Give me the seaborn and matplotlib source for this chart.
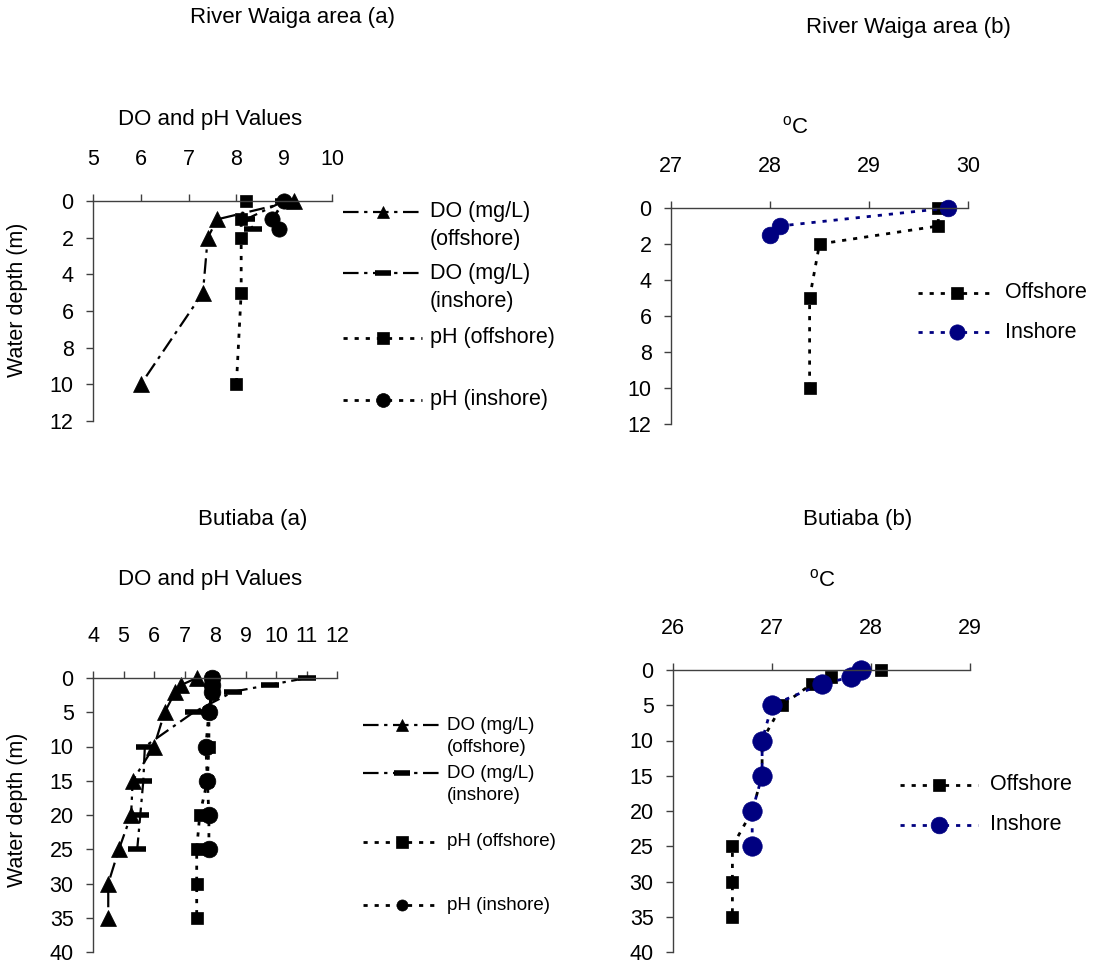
import matplotlib
matplotlib.use("Agg")
import matplotlib.pyplot as plt
from matplotlib.lines import Line2D
import seaborn as sns

# River Waiga area
waiga_depth_off = [0, 1, 2, 5, 10]
waiga_depth_in = [0, 1, 1.5]
waiga_do_off = [9.2, 7.6, 7.4, 7.3, 6.0]
waiga_do_in = [9.0, 8.2, 8.35]
waiga_ph_off = [8.2, 8.1, 8.1, 8.1, 8.0]
waiga_ph_in = [9.0, 8.75, 8.9]
waiga_temp_off = [29.7, 29.7, 28.5, 28.4, 28.4]
waiga_temp_in = [29.8, 28.1, 28.0]

# Butiaba
but_depth_off = [0, 1, 2, 5, 10, 15, 20, 25, 30, 35]
but_depth_in = [0, 1, 2, 5, 10, 15, 20, 25]
but_do_off = [7.4, 6.9, 6.7, 6.35, 6.0, 5.3, 5.25, 4.85, 4.5, 4.5]
but_do_in = [11.0, 9.8, 8.6, 7.3, 5.7, 5.65, 5.55, 5.45]
but_ph_off = [7.9, 7.9, 7.9, 7.8, 7.8, 7.75, 7.5, 7.4, 7.4, 7.4]
but_ph_in = [7.9, 7.9, 7.9, 7.8, 7.7, 7.75, 7.8, 7.8]
but_temp_off = [28.1, 27.6, 27.4, 27.1, 26.9, 26.9, 26.8, 26.6, 26.6, 26.6]
but_temp_in = [27.9, 27.8, 27.5, 27.0, 26.9, 26.9, 26.8, 26.8]

W, H = 1102, 965
AXIS = "#404040"
NAVY = "#000080"
DASHDOT = (0, (7, 2.5, 1.5, 2.5))
DOTTED = (0, (1.5, 2.5))
TICK = 15.5

sns.set_style("white")
plt.rcParams["font.family"] = ["Liberation Sans", "DejaVu Sans"]
plt.rcParams["mathtext.fontset"] = "custom"
plt.rcParams["mathtext.rm"] = "Liberation Sans"
plt.rcParams["text.color"] = "black"
plt.rcParams["xtick.labelcolor"] = "black"
plt.rcParams["ytick.labelcolor"] = "black"

fig = plt.figure(figsize=(W / 100, H / 100), dpi=100)


def px_axes(left, top, right, bottom):
    return fig.add_axes([left / W, 1 - bottom / H, (right - left) / W, (bottom - top) / H])


def style_axes(ax, xlim, ymax, ystep):
    ax.set_xlim(*xlim)
    ax.set_ylim(ymax, 0)
    ax.set_xticks(range(xlim[0], xlim[1] + 1))
    ax.set_yticks(range(0, ymax + 1, ystep))
    ax.xaxis.tick_top()
    for s in ["right", "bottom"]:
        ax.spines[s].set_visible(False)
    for s in ["left", "top"]:
        ax.spines[s].set_color(AXIS)
        ax.spines[s].set_linewidth(1)
    ax.tick_params(axis="x", direction="out", length=5, width=1, color=AXIS,
                   labelsize=TICK, labelcolor="black", pad=17, top=True, bottom=False)
    ax.tick_params(axis="y", direction="out", length=5, width=1, color=AXIS,
                   labelsize=TICK, labelcolor="black", pad=9, left=True)
    ax.set_xlabel("")
    ax.set_ylabel("")


def profile(ax, vals, depth, color, marker, ms, ls, lw=1.6, mew=0.5):
    sns.lineplot(x=vals, y=depth, ax=ax, sort=False, estimator=None, orient="y",
                 color=color, marker=marker, markersize=ms, markeredgecolor=color,
                 markeredgewidth=mew, linestyle=ls, linewidth=lw, clip_on=False)


def legend_row(x0, x1, y, tx, lines, size, gap, color, marker, ms, ls, lw=1.6, mew=0.5):
    fy = 1 - y / H
    fig.add_artist(Line2D([x0 / W, (x0 + x1) / 2 / W, x1 / W], [fy] * 3,
                          color=color, marker=marker, markersize=ms, markevery=[1],
                          markeredgecolor=color, markeredgewidth=mew,
                          linestyle=ls, linewidth=lw))
    for i, line in enumerate(lines):
        fig.text(tx / W, 1 - (y + i * gap) / H, line, fontsize=size, va="center", ha="left")


# ---- River Waiga (a): DO and pH
ax1 = px_axes(93, 201, 332, 421)
profile(ax1, waiga_do_off, waiga_depth_off, "black", "^", 11, DASHDOT)
profile(ax1, waiga_do_in, waiga_depth_in, "black", "_", 13, DASHDOT, mew=4)
profile(ax1, waiga_ph_off, waiga_depth_off, "black", "s", 9, DOTTED, lw=2)
profile(ax1, waiga_ph_in, waiga_depth_in, "black", "o", 11, DOTTED, lw=2)
style_axes(ax1, (5, 10), 12, 2)

# ---- River Waiga (b): temperature
ax2 = px_axes(671, 208, 968, 424)
profile(ax2, waiga_temp_off, waiga_depth_off, "black", "s", 9, DOTTED, lw=2)
profile(ax2, waiga_temp_in, waiga_depth_in, NAVY, "o", 12, DOTTED, lw=2)
style_axes(ax2, (27, 30), 12, 2)

# ---- Butiaba (a): DO and pH
ax3 = px_axes(93, 678, 337, 952)
profile(ax3, but_do_off, but_depth_off, "black", "^", 11, DASHDOT)
profile(ax3, but_do_in, but_depth_in, "black", "_", 13, DASHDOT, mew=4)
profile(ax3, but_ph_off, but_depth_off, "black", "s", 9, DOTTED, lw=2)
profile(ax3, but_ph_in, but_depth_in, "black", "o", 12, DOTTED, lw=2)
style_axes(ax3, (4, 12), 40, 5)

# ---- Butiaba (b): temperature
ax4 = px_axes(673, 670, 970, 952)
profile(ax4, but_temp_off, but_depth_off, "black", "s", 9, DOTTED, lw=2)
profile(ax4, but_temp_in, but_depth_in, NAVY, "o", 14, DOTTED, lw=2)
style_axes(ax4, (26, 29), 40, 5)

# titles and axis captions
fig.text(292 / W, 1 - 18 / H, "River Waiga area (a)", fontsize=16, ha="center", va="center")
fig.text(908 / W, 1 - 27 / H, "River Waiga area (b)", fontsize=16, ha="center", va="center")
fig.text(253 / W, 1 - 519 / H, "Butiaba (a)", fontsize=16, ha="center", va="center")
fig.text(858 / W, 1 - 519 / H, "Butiaba (b)", fontsize=16, ha="center", va="center")
fig.text(210 / W, 1 - 119 / H, "DO and pH Values", fontsize=16, ha="center", va="center")
fig.text(210 / W, 1 - 580 / H, "DO and pH Values", fontsize=16, ha="center", va="center")
fig.text(795 / W, 1 - 127 / H, r"$^{\mathrm{o}}$C", fontsize=16, ha="center", va="center")
fig.text(822 / W, 1 - 580 / H, r"$^{\mathrm{o}}$C", fontsize=16, ha="center", va="center")
fig.text(18 / W, 1 - 300 / H, "Water depth (m)", fontsize=TICK, rotation=90, ha="center", va="center")
fig.text(18 / W, 1 - 810 / H, "Water depth (m)", fontsize=TICK, rotation=90, ha="center", va="center")

# legends
legend_row(343, 422, 212, 430, ["DO (mg/L)", "(offshore)"], 15.5, 27, "black", "^", 9, DASHDOT)
legend_row(343, 422, 273, 430, ["DO (mg/L)", "(inshore)"], 15.5, 29, "black", "_", 12, DASHDOT, mew=4)
legend_row(343, 422, 338, 430, ["pH (offshore)"], 15.5, 0, "black", "s", 8, DOTTED, lw=2)
legend_row(343, 422, 400, 430, ["pH (inshore)"], 15.5, 0, "black", "o", 10, DOTTED, lw=2)

legend_row(363, 440, 725, 447, ["DO (mg/L)", "(offshore)"], 13.5, 23, "black", "^", 8, DASHDOT)
legend_row(363, 440, 773, 447, ["DO (mg/L)", "(inshore)"], 13.5, 23, "black", "_", 11, DASHDOT, mew=4)
legend_row(363, 440, 842, 447, ["pH (offshore)"], 13.5, 0, "black", "s", 8, DOTTED, lw=2)
legend_row(363, 440, 905, 447, ["pH (inshore)"], 13.5, 0, "black", "o", 8, DOTTED, lw=2)

legend_row(918, 995, 293, 1005, ["Offshore"], 15.5, 0, "black", "s", 8, DOTTED, lw=2)
legend_row(918, 995, 332, 1005, ["Inshore"], 15.5, 0, NAVY, "o", 11, DOTTED, lw=2)
legend_row(900, 978, 785, 990, ["Offshore"], 15.5, 0, "black", "s", 8, DOTTED, lw=2)
legend_row(900, 978, 825, 990, ["Inshore"], 15.5, 0, NAVY, "o", 12, DOTTED, lw=2)

fig.savefig("out.png", dpi=100)
